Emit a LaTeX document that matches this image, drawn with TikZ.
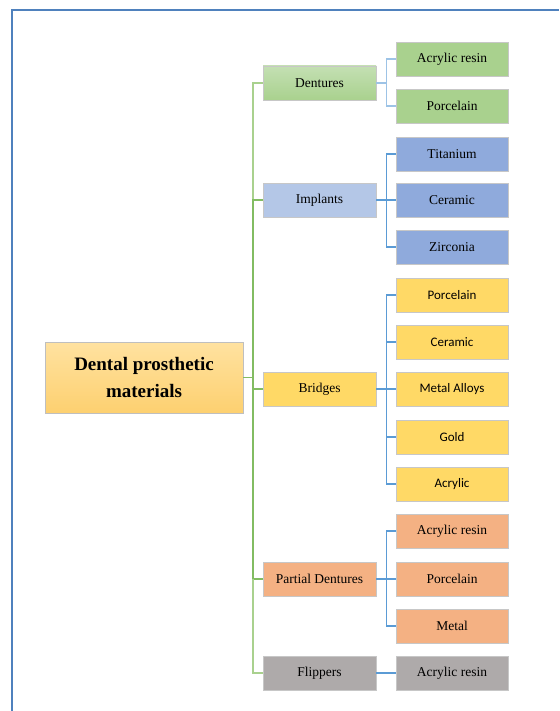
\documentclass[tikz,border=0pt]{standalone}
\usepackage{fontspec}
\setmainfont{Liberation Serif}
\newfontfamily\carl{Carlito}
\begin{document}
\begin{tikzpicture}[x=1pt,y=-1pt,
  box/.style={draw=black!22,line width=0.8pt,minimum height=34pt,inner sep=0pt,font=\fontsize{13.5}{15}\selectfont,text=black},
  lone/.style={box,minimum width=113pt},
  ltwo/.style={box,minimum width=112pt},
  gline/.style={color={rgb,255:red,130;green,188;blue,98},line width=1.4pt},
  gl2/.style={color={rgb,255:red,169;green,209;blue,142},line width=1.3pt},
  bline/.style={color={rgb,255:red,91;green,155;blue,213},line width=1.1pt},
  bl2/.style={color={rgb,255:red,157;green,195;blue,230},line width=1.1pt},
  sans/.style={font=\carl\fontsize{13}{15}\selectfont}
]
\definecolor{gA}{RGB}{169,209,142}
\definecolor{gB}{RGB}{181,216,160}
\definecolor{bA}{RGB}{143,170,220}
\definecolor{bB}{RGB}{180,199,231}
\definecolor{yA}{RGB}{255,217,102}
\definecolor{oA}{RGB}{244,177,131}
\definecolor{rA}{RGB}{174,170,170}
\definecolor{frame}{RGB}{79,129,189}
\definecolor{rootT}{RGB}{255,226,160}
\definecolor{rootB}{RGB}{253,208,112}
\useasboundingbox (0,0) rectangle (559,711);
\fill[white] (0,0) rectangle (559,711);
% frame
\coordinate (f1) at (12,711);
\coordinate (f2) at (12,10);
\coordinate (f3) at (559,10);
\draw[frame,line width=1.6pt] (f1) -- (f2) -- (f3);
% root
\node[draw=black!25,line width=0.8pt,minimum width=198pt,minimum height=71pt,inner sep=0pt,
  top color=rootT,bottom color=rootB,align=center,font=\bfseries\fontsize{19}{27}\selectfont]
  (root) at (144,377.5) {Dental prosthetic\\materials};
% level 1
\node[lone,top color=gB!80!white,bottom color=gA] (den) at (319.5,83) {Dentures};
\node[lone,fill=bB] (imp) at (319.5,200) {Implants};
\node[lone,fill=yA] (bri) at (319.5,389) {Bridges};
\node[lone,fill=oA] (par) at (319.5,579) {Partial Dentures};
\node[lone,fill=rA] (fli) at (319.5,673) {Flippers};
% level 2
\node[ltwo,fill=gA] (d1) at (452,59) {Acrylic resin};
\node[ltwo,fill=gA] (d2) at (452,106) {Porcelain};
\node[ltwo,fill=bA] (i1) at (452,154) {Titanium};
\node[ltwo,fill=bA] (i2) at (452,200) {Ceramic};
\node[ltwo,fill=bA] (i3) at (452,247) {Zirconia};
\node[ltwo,fill=yA,sans] (b1) at (452,295) {Porcelain};
\node[ltwo,fill=yA,sans] (b2) at (452,342) {Ceramic};
\node[ltwo,fill=yA,sans] (b3) at (452,389) {Metal Alloys};
\node[ltwo,fill=yA,sans] (b4) at (452,437) {Gold};
\node[ltwo,fill=yA,sans] (b5) at (452,484) {Acrylic};
\node[ltwo,fill=oA] (p1) at (452,531) {Acrylic resin};
\node[ltwo,fill=oA] (p2) at (452,579) {Porcelain};
\node[ltwo,fill=oA] (p3) at (452,626) {Metal};
\node[ltwo,fill=rA] (f1n) at (452,673) {Acrylic resin};
% trunk
\draw[gl2] (den.west) -| (253,200);
\draw[gline] (imp.west) -| (253,389);
\draw[gline] (root.east) -- (253,377.5);
\draw[gline] (bri.west) -| (253,579);
\draw[gline] (par.west) -- (253,579);
\draw[gl2] (fli.west) -| (253,579);
% level-1 to level-2 connectors
\foreach \a/\b in {den/d1,den/d2}{\draw[bl2] (\a.east) -- ++(10,0) |- (\b.west);}
\foreach \a/\b in {imp/i1,imp/i2,imp/i3,bri/b1,bri/b2,bri/b3,bri/b4,bri/b5,par/p1,par/p2,par/p3,fli/f1n}{\draw[bline] (\a.east) -- ++(10,0) |- (\b.west);}
\end{tikzpicture}
\end{document}
